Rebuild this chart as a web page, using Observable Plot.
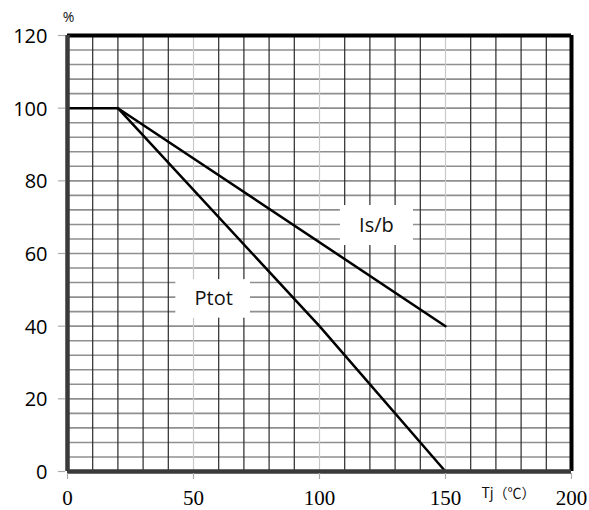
<!DOCTYPE html>
<html><head><meta charset="utf-8">
<script src="https://cdn.jsdelivr.net/npm/d3@7"></script>
<script src="https://cdn.jsdelivr.net/npm/@observablehq/plot@0.6"></script>
<style>body{margin:0;background:#fff}</style>
</head><body><div id="chart"></div>
<script>
const ptotX = [0, 20, 100, 150];
const ptotY = [100, 100, 40, 0];
const isbX = [20, 150];
const isbY = [100, 40];
const xTicks = [0, 50, 100, 150, 200];
const yTicks = [0, 20, 40, 60, 80, 100, 120];
const vGrid = d3.range(10, 200, 10);
const hGrid = d3.range(4, 120, 4);
const labels = [
  {text: "Is/b", x: 122.6, y: 67.7, x1: 108.3, x2: 137.3, y1: 62.2, y2: 73.2},
  {text: "Ptot", x: 58, y: 47.6, x1: 43, x2: 72.6, y1: 42.2, y2: 52.8}
];
const ptot = ptotX.map((x, i) => ({x, y: ptotY[i]}));
const isb = isbX.map((x, i) => ({x, y: isbY[i]}));

const chart = Plot.plot({
  width: 589, height: 510,
  marginLeft: 67, marginRight: 18, marginTop: 35, marginBottom: 39,
  x: {type: "linear", domain: [0, 200], axis: null},
  y: {type: "linear", domain: [0, 120], axis: null},
  marks: [
    Plot.ruleY(hGrid, {stroke: "#8f8f8f", strokeWidth: 1.6}),
    Plot.ruleX(vGrid, {stroke: d => d % 50 === 0 ? "#c8c8c8" : "#2a2a2a", strokeWidth: 1.2}),
    Plot.rect(labels, {x1: "x1", x2: "x2", y1: "y1", y2: "y2", fill: "white"}),
    Plot.text(labels, {x: "x", y: "y", text: "text", fontSize: 20, fontFamily: "'Open Sans', sans-serif", fill: "#111"}),
    Plot.line(ptot, {x: "x", y: "y", stroke: "black", strokeWidth: 2.5}),
    Plot.line(isb, {x: "x", y: "y", stroke: "black", strokeWidth: 2.5}),
    Plot.ruleY([120], {stroke: "black", strokeWidth: 4}),
    Plot.ruleX([200], {stroke: "black", strokeWidth: 4}),
    Plot.ruleX([0], {stroke: "#3a3a3a", strokeWidth: 4.5}),
    Plot.ruleY([0], {stroke: "#3a3a3a", strokeWidth: 4.5}),
    Plot.ruleY(yTicks, {y: d => d, x1: -3.6, x2: -0.8, stroke: "#aaa", strokeWidth: 1.2}),
    Plot.ruleX(xTicks, {x: d => d, y1: -0.55, y2: -2.2, stroke: "#aaa", strokeWidth: 1.2}),
    Plot.text(yTicks, {y: d => d, x: 0, text: d => String(d), dx: -20, dy: 1, textAnchor: "end", fontSize: 20, fontWeight: 500, fontFamily: "'Open Sans', sans-serif", fill: "#000"}),
    Plot.text(xTicks, {x: d => d, y: 0, text: d => String(d), dy: 27, fontSize: 21, fontFamily: "'Liberation Serif', serif", fill: "#000"}),
    Plot.text(["%"], {x: 0, y: 120, dy: -18, dx: 1, fontSize: 14, fontFamily: "'Open Sans', sans-serif", fill: "#111"}),
    Plot.text(["Tj（℃）"], {x: 175, y: 0, dy: 22, dx: 0, fontSize: 14, fontFamily: "'Noto Sans CJK SC', sans-serif", fill: "#111"})
  ]
});
document.getElementById("chart").appendChild(chart);
</script>
</body></html>
